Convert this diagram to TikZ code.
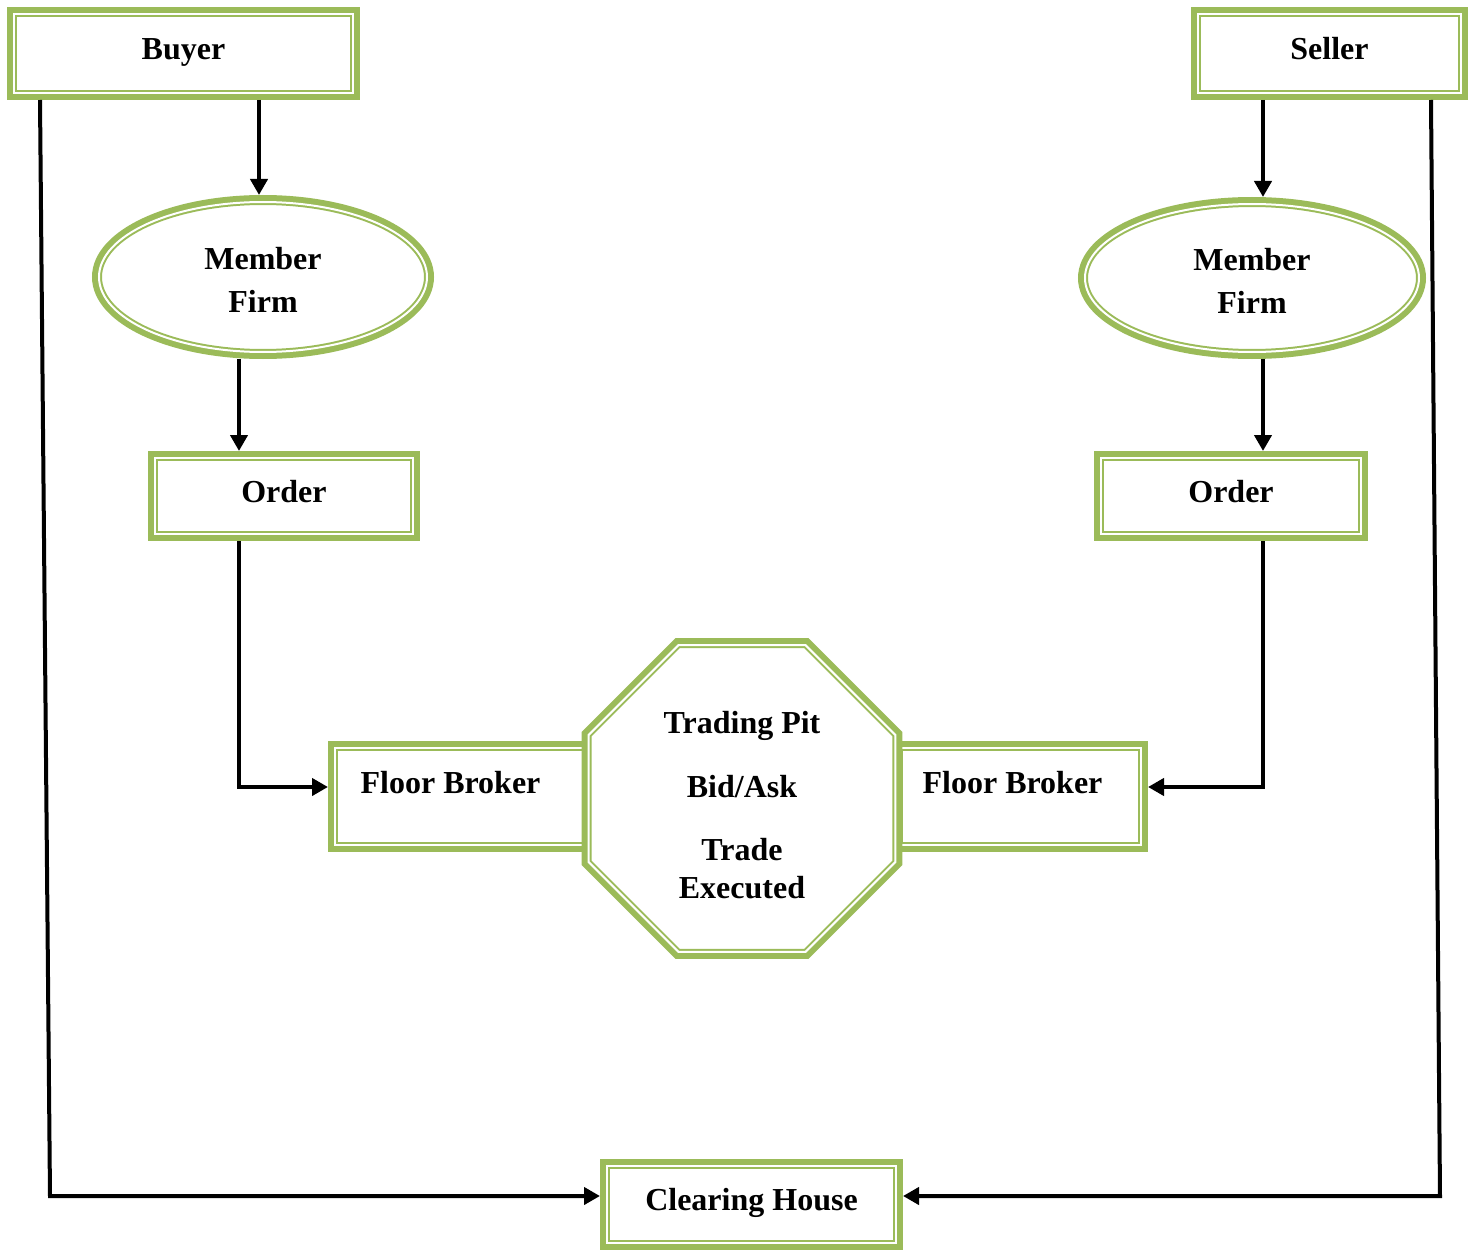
\documentclass[tikz,border=0pt]{standalone}
\usepackage{fontspec}
\setmainfont{Liberation Serif}
\usetikzlibrary{shapes.geometric,arrows.meta}
\definecolor{leaf}{HTML}{9BBB59}
\begin{document}
\begin{tikzpicture}[x=0.5pt,y=-0.5pt,
    frame/.style={draw=leaf,fill=white,line width=1pt,double=white,double distance=1pt,
        preaction={draw=leaf,line width=7pt},outer sep=3.5pt,inner sep=0pt,
        font=\bfseries\fontsize{16}{19}\selectfont},
    box/.style={frame,rectangle,text height=12pt,text depth=6pt},
    oval/.style={frame,ellipse,align=center,font=\bfseries\fontsize{16}{21.5}\selectfont},
    link/.style={line width=2pt,-{Triangle[length=8pt,width=8.5pt]}}]
    \useasboundingbox(0,0)rectangle(1474,1252);
    % top row
    \node[box,minimum width=169.5pt,minimum height=39.5pt](buyer)at(183.5,53.5){Buyer};
    \node[box,minimum width=131.5pt,minimum height=39.5pt](seller)at(1329.5,53.5){Seller};
    \node[oval,minimum width=164pt,minimum height=75pt](mfL)at(263,277){\rule{0pt}{14pt}Member\\Firm};
    \node[oval,minimum width=167pt,minimum height=74pt](mfR)at(1252,278){\rule{0pt}{14pt}Member\\Firm};
    \node[box,minimum width=129pt,minimum height=38pt](ordL)at(284,496){Order};
    \node[box,minimum width=130pt,minimum height=38pt](ordR)at(1231,496){Order};
    % floor and pit
    \node[box,text depth=15.4pt,minimum width=126.5pt,minimum height=48.5pt](fbL)at(461.5,796.5){Floor Broker\kern11pt};
    \node[box,text depth=15.4pt,minimum width=120.5pt,minimum height=48.5pt](fbR)at(1020.5,796.5){Floor Broker\kern8pt};
    \node[frame,regular polygon,regular polygon sides=8,minimum size=166pt,align=center](pit)at(742,798.5)
        {\rule{0pt}{17.5pt}Trading Pit\\[13pt]Bid/Ask\\[12.5pt]Trade\\Executed};
    \node[box,minimum width=144.5pt,minimum height=38.5pt](clear)at(751.5,1204.5){Clearing House};
    \coordinate(cornerL)at(50,1196);
    \coordinate(cornerR)at(1440,1196);
    % buyer side
    \draw[link]([xshift=-2pt]mfL.north|-buyer.south)--([xshift=-2pt]mfL.north);
    \draw[link]([xshift=-12pt]mfL.south)--([xshift=-12pt]mfL.south|-ordL.north);
    \draw[link]([xshift=-22.5pt]ordL.south)|-([yshift=4.75pt]fbL.west);
    \draw[link]([xshift=16.5pt]buyer.south west)--(cornerL)--(cornerL-|clear.west);
    % seller side
    \draw[link]([xshift=5.5pt]mfR.north|-seller.south)--([xshift=5.5pt]mfR.north);
    \draw[link]([xshift=5.5pt]mfR.south)--([xshift=5.5pt]mfR.south|-ordR.north);
    \draw[link]([xshift=16pt]ordR.south)|-([yshift=4.75pt]fbR.east);
    \draw[link]([xshift=-18.5pt]seller.south east)--(cornerR)--(cornerR-|clear.east);
\end{tikzpicture}
\end{document}
